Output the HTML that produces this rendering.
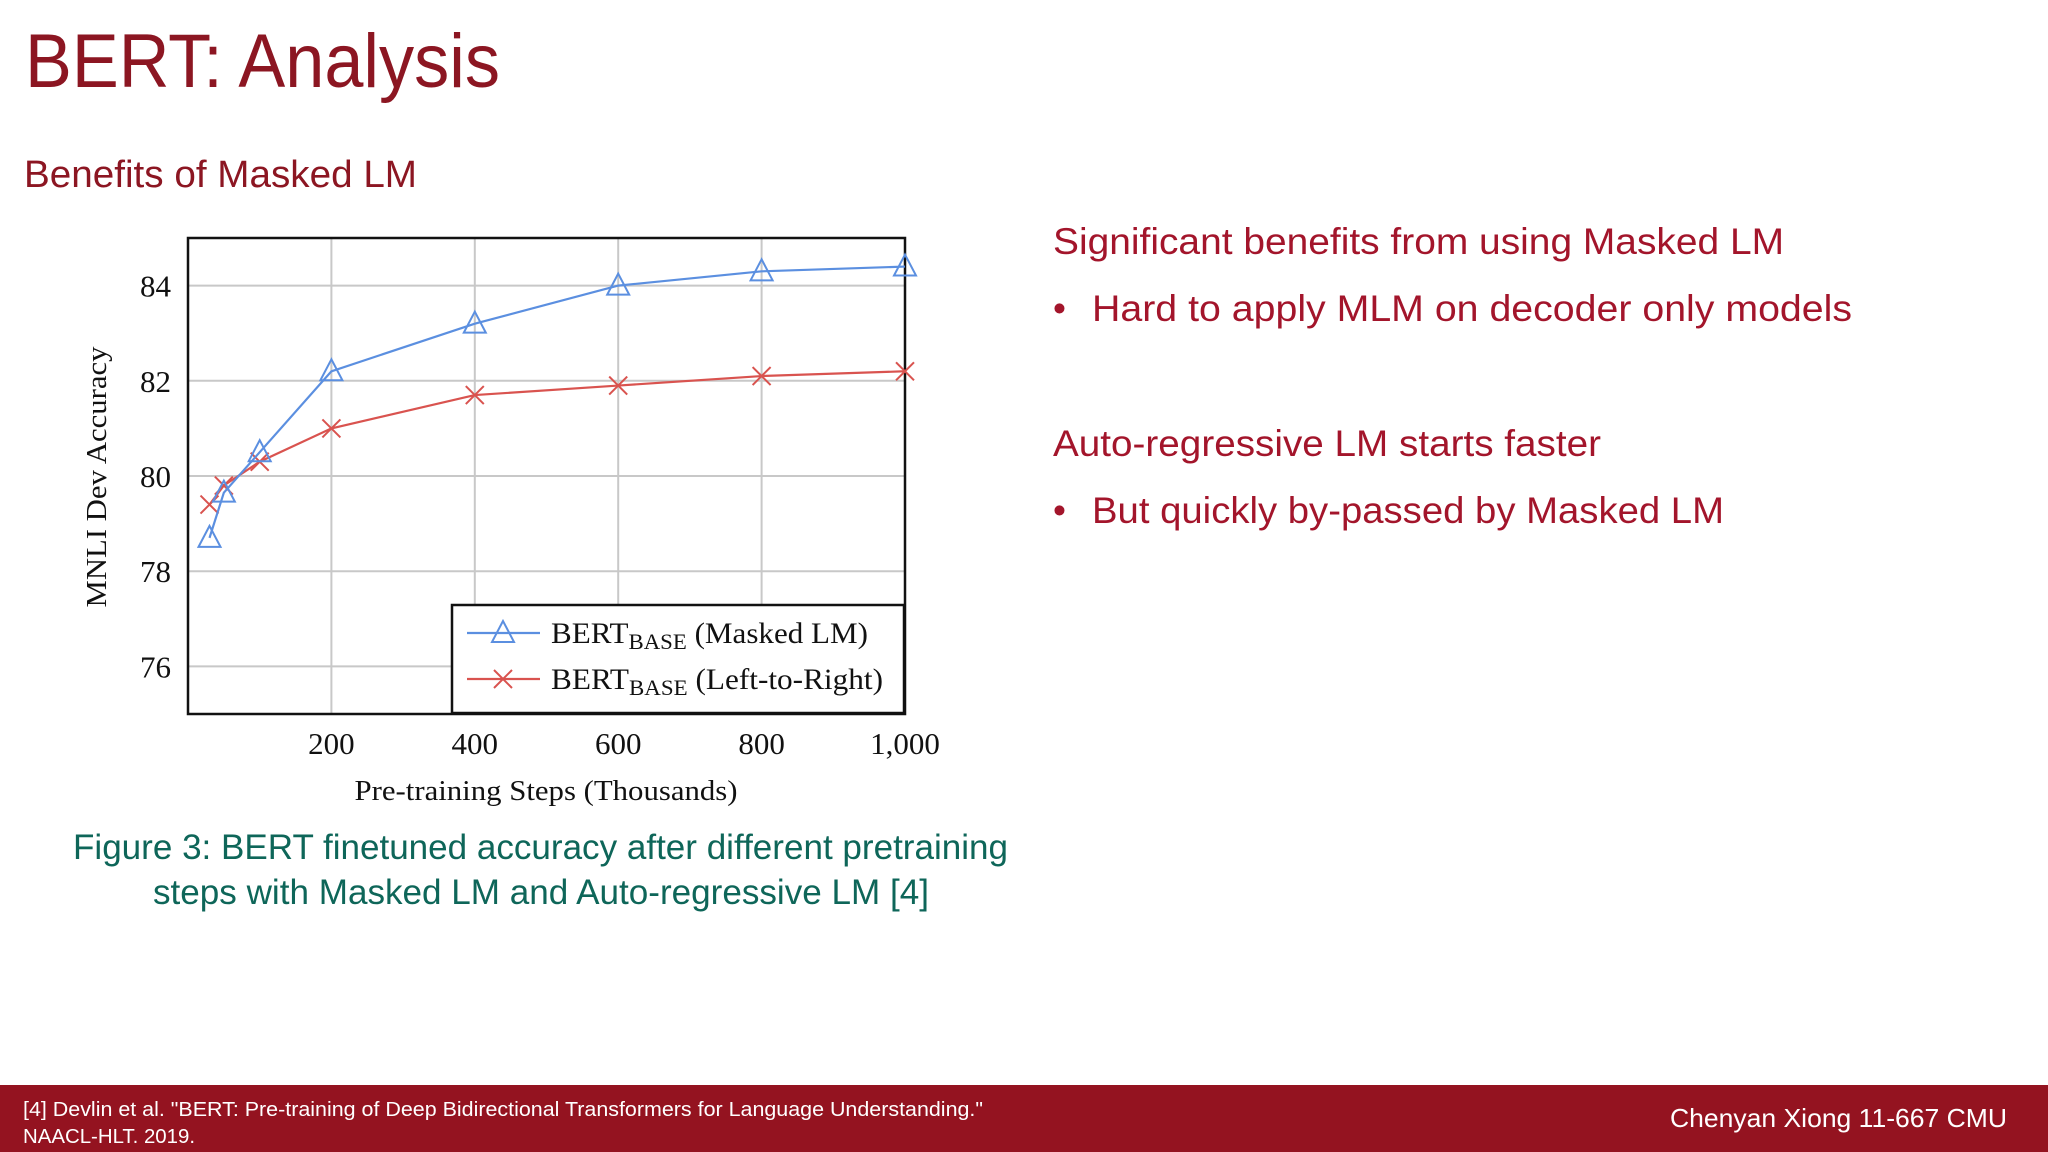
<!DOCTYPE html>
<html><head><meta charset="utf-8"><style>
html,body{margin:0;padding:0;background:#fff;}
svg{display:block;}
.s{font-family:"Liberation Sans",sans-serif;}
.r{font-family:"Liberation Serif",serif;fill:#111;}
</style></head><body>
<svg id="page" width="2048" height="1152" viewBox="0 0 2048 1152">
<text class="s" x="25" y="87" font-size="76" fill="#8c1622" textLength="475" lengthAdjust="spacingAndGlyphs">BERT: Analysis</text>
<text class="s" x="24" y="187" font-size="38" fill="#8c1622" textLength="393" lengthAdjust="spacingAndGlyphs">Benefits of Masked LM</text>

<text class="s" x="1053" y="254" font-size="37" fill="#a3152b" textLength="731" lengthAdjust="spacingAndGlyphs">Significant benefits from using Masked LM</text>
<text class="s" x="1053" y="321" font-size="37" fill="#a3152b">•</text>
<text class="s" x="1092" y="321" font-size="37" fill="#a3152b" textLength="760" lengthAdjust="spacingAndGlyphs">Hard to apply MLM on decoder only models</text>
<text class="s" x="1053" y="456" font-size="37" fill="#a3152b" textLength="548" lengthAdjust="spacingAndGlyphs">Auto-regressive LM starts faster</text>
<text class="s" x="1053" y="523" font-size="37" fill="#a3152b">•</text>
<text class="s" x="1092" y="523" font-size="37" fill="#a3152b" textLength="632" lengthAdjust="spacingAndGlyphs">But quickly by-passed by Masked LM</text>

<text class="s" x="73" y="859" font-size="35" fill="#0e6659" textLength="935" lengthAdjust="spacingAndGlyphs">Figure 3: BERT finetuned accuracy after different pretraining</text>
<text class="s" x="153" y="904" font-size="35" fill="#0e6659" textLength="776" lengthAdjust="spacingAndGlyphs">steps with Masked LM and Auto-regressive LM [4]</text>

<rect x="0" y="1085" width="2048" height="67" fill="#941320"/>
<text class="s" x="23" y="1116" font-size="20" fill="#fff" textLength="960" lengthAdjust="spacingAndGlyphs">[4] Devlin et al. "BERT: Pre-training of Deep Bidirectional Transformers for Language Understanding."</text>
<text class="s" x="23" y="1143" font-size="20" fill="#fff" textLength="172" lengthAdjust="spacingAndGlyphs">NAACL-HLT. 2019.</text>
<text class="s" x="1670" y="1127" font-size="26" fill="#fff" textLength="337" lengthAdjust="spacingAndGlyphs">Chenyan Xiong 11-667 CMU</text>

<g id="chart"></g>
</svg>
<script>
const xTicks = [200, 400, 600, 800, 1000];
const xTickLabels = ["200", "400", "600", "800", "1,000"];
const yTicks = [76, 78, 80, 82, 84];
const yTickLabels = ["76", "78", "80", "82", "84"];
const steps = [30, 50, 100, 200, 400, 600, 800, 1000];
const maskedLM = [78.7, 79.65, 80.5, 82.2, 83.2, 84.0, 84.3, 84.4];
const leftToRight = [79.4, 79.8, 80.3, 81.0, 81.7, 81.9, 82.1, 82.2];

const NS = "http://www.w3.org/2000/svg";
const g = document.getElementById("chart");
const L = 188, R = 905, T = 238, B = 714;
const X0 = 0, X1 = 1000, Y0 = 75, Y1 = 85;
function sx(v){ return L + (v - X0) / (X1 - X0) * (R - L); }
function sy(v){ return B - (v - Y0) / (Y1 - Y0) * (B - T); }
function mk(tag, attrs, parent){
  const e = document.createElementNS(NS, tag);
  for (const k in attrs) e.setAttribute(k, attrs[k]);
  (parent || g).appendChild(e);
  return e;
}
xTicks.forEach((t, i) => {
  const l = mk("line", {x1: sx(t), x2: sx(t), y1: T, y2: B, stroke: "#c8c8c8", "stroke-width": 2});
  
  
  const tx = mk("text", {x: sx(t), y: 754, "font-size": 31, "text-anchor": "middle", class: "r"});
  tx.textContent = xTickLabels[i];
  
  
});
yTicks.forEach((t, i) => {
  const l = mk("line", {x1: L, x2: R, y1: sy(t), y2: sy(t), stroke: "#c8c8c8", "stroke-width": 2});
  
  
  const tx = mk("text", {x: 171, y: sy(t) + 11, "font-size": 31, "text-anchor": "end", class: "r"});
  tx.textContent = yTickLabels[i];
  
  
});
const frame = mk("rect", {x: L, y: T, width: R - L, height: B - T, fill: "none", stroke: "#111", "stroke-width": 2.5});



const xt = mk("text", {x: 546, y: 800, "font-size": 29, "text-anchor": "middle", class: "r", textLength: 383, lengthAdjust: "spacingAndGlyphs"});
xt.textContent = "Pre-training Steps (Thousands)";


const yt = mk("text", {x: 0, y: 0, "font-size": 29, "text-anchor": "middle", class: "r", transform: "translate(106,477) rotate(-90)", textLength: 261, lengthAdjust: "spacingAndGlyphs"});
yt.textContent = "MNLI Dev Accuracy";



function tri(cx, cy, color, name){
  const p = mk("polygon", {points: `${cx},${cy-12} ${cx-11},${cy+9} ${cx+11},${cy+9}`, fill: "none", stroke: color, "stroke-width": 2});
  
  
}
function cross(cx, cy, color, name){
  const p = mk("path", {d: `M${cx-9},${cy-9}L${cx+9},${cy+9}M${cx-9},${cy+9}L${cx+9},${cy-9}`, stroke: color, "stroke-width": 2, fill: "none"});
  
  
}
function series(vals, color, name, marker){
  const d = vals.map((v, i) => (i ? "L" : "M") + sx(steps[i]) + "," + sy(v)).join("");
  const p = mk("path", {d: d, fill: "none", stroke: color, "stroke-width": 2.2});
  
  
  vals.forEach((v, i) => marker(sx(steps[i]), sy(v), color, name + '-point'));
}
series(leftToRight, "#d9534f", "left-to-right", cross);
series(maskedLM, "#5b8fe0", "masked-lm", tri);

const lg = mk("rect", {x: 452, y: 605, width: 452, height: 108, fill: "#fff", stroke: "#111", "stroke-width": 2.5});


const entries = [["Masked LM", "#5b8fe0", 633, tri, "legend-masked-lm", 317], ["Left-to-Right", "#d9534f", 679, cross, "legend-left-to-right", 332]];
entries.forEach(e => {
  const l = mk("line", {x1: 467, x2: 540, y1: e[2], y2: e[2], stroke: e[1], "stroke-width": 2.2});
  
  
  e[3](503, e[2], e[1], e[4] + '-marker');
  const t = mk("text", {x: 551, y: e[2] + 10, "font-size": 30, class: "r", textLength: e[5], lengthAdjust: "spacingAndGlyphs"});
  
  
  const a = mk("tspan", {}, t); a.textContent = "BERT";
  const b = mk("tspan", {"font-size": 22, dy: 6}, t); b.textContent = "BASE";
  const c = mk("tspan", {dy: -6}, t); c.textContent = " (" + e[0] + ")";
});
</script>
</body></html>
